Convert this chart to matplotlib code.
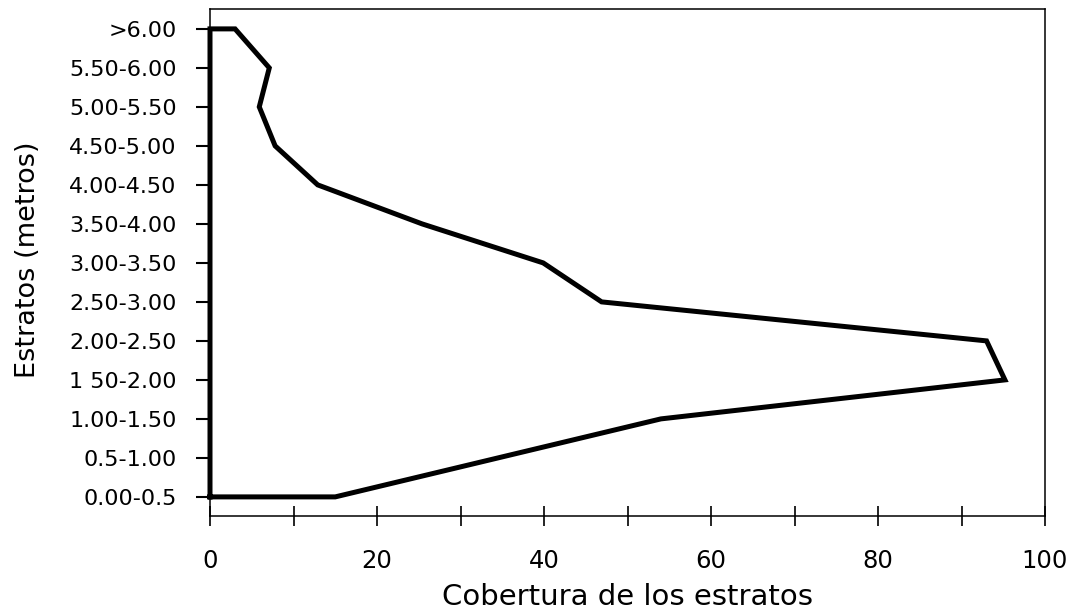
import numpy as np
import matplotlib
matplotlib.use("Agg")
import matplotlib.pyplot as plt

# strata (height classes) and their cover
estratos = ["0.00-0.5", "0.5-1.00", "1.00-1.50", "1 50-2.00", "2.00-2.50",
            "2.50-3.00", "3.00-3.50", "3.50-4.00", "4.00-4.50", "4.50-5.00",
            "5.00-5.50", "5.50-6.00", ">6.00"]
cobertura = [15, 34.5, 54, 95.2, 93, 46.9, 39.9, 25.4, 12.9, 7.8, 5.9, 7.1, 3.0]

x_ticks = [0, 10, 20, 30, 40, 50, 60, 70, 80, 90, 100]
x_labels = ["0", "", "20", "", "40", "", "60", "", "80", "", "100"]


def main():
    plt.rcParams['font.family'] = ['DejaVu Sans']
    fig = plt.figure(figsize=(10.73, 6.14), dpi=100)
    ax = fig.add_axes([210 / 1073, 1 - 516 / 614, 835 / 1073, 507 / 614])

    pos = np.arange(len(estratos))
    # closed profile: cover values, back along the y axis at x=0
    xs = np.concatenate([[0], cobertura, [0, 0]])
    ys = np.concatenate([[pos[0]], pos, [pos[-1], pos[0]]])
    ax.plot(xs, ys, color='black', lw=3.6, solid_joinstyle='miter', clip_on=False)

    ax.set_xlim(0, 100)
    ax.set_ylim(-0.49, 12.51)
    ax.set_xticks(x_ticks)
    ax.set_xticklabels(x_labels, fontsize=17.5)
    ax.set_yticks(pos)
    ax.set_yticklabels(estratos, fontsize=16)

    ax.tick_params(axis='x', direction='inout', length=14, width=1.2, pad=17)
    ax.tick_params(axis='y', direction='out', length=10, width=1.5, pad=14)
    for s in ax.spines.values():
        s.set_linewidth(1.1)

    ax.set_xlabel('Cobertura de los estratos', fontsize=21, labelpad=7)
    ax.set_ylabel('Estratos (metros)', fontsize=19.5)
    ax.yaxis.set_label_coords(-0.2024, 0.505)

    fig.savefig('out.png', dpi=100)


if __name__ == "__main__":
    main()
